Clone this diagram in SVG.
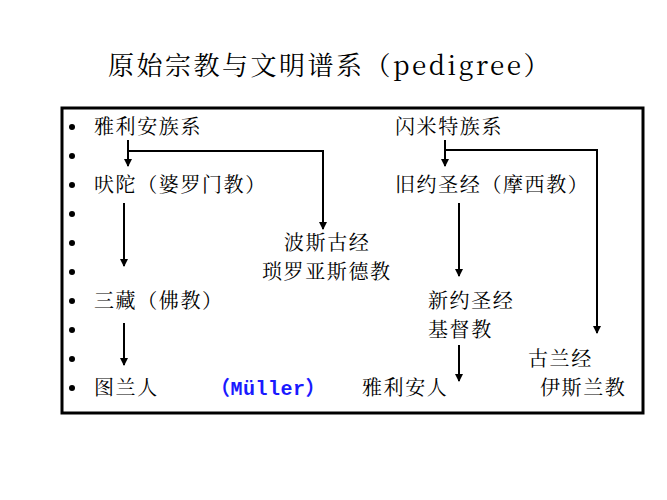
<svg xmlns="http://www.w3.org/2000/svg" width="667" height="500" viewBox="0 0 667 500">
<style>
text{font-family:"Noto Serif CJK SC","Noto Sans CJK SC","Liberation Serif",serif;font-size:20px;letter-spacing:1.6px;fill:#000}
.t{font-size:26px;letter-spacing:2.5px}
.b{font-family:"Liberation Mono","Noto Sans CJK SC",monospace;fill:#1a1aff;font-weight:bold;letter-spacing:0.5px}
.c line,.c path{stroke:#000;stroke-width:2;fill:none}
</style>
<defs><marker id="a" markerWidth="8" markerHeight="8" refX="7" refY="4" orient="auto" markerUnits="userSpaceOnUse"><path d="M0,0L8,4L0,8z" fill="#000"/></marker></defs>
<rect width="667" height="500" fill="#fff"/>
<text class="t" x="330" y="75" text-anchor="middle">原始宗教与文明谱系（pedigree）</text>
<rect x="62" y="108" width="581" height="305" fill="none" stroke="#000" stroke-width="3"/>
<g id="bullets" fill="#000">
<circle cx="72" cy="127" r="3"/><circle cx="72" cy="156" r="3"/><circle cx="72" cy="185" r="3"/><circle cx="72" cy="214" r="3"/><circle cx="72" cy="243" r="3"/><circle cx="72" cy="272" r="3"/><circle cx="72" cy="301" r="3"/><circle cx="72" cy="330" r="3"/><circle cx="72" cy="359" r="3"/><circle cx="72" cy="388" r="3"/>
</g>
<g class="c" id="connectors">
<line x1="128" y1="140" x2="128" y2="166" marker-end="url(#a)"/>
<path d="M128,151H323V229" marker-end="url(#a)"/>
<line x1="124" y1="203" x2="124" y2="266" marker-end="url(#a)"/>
<line x1="124" y1="323" x2="124" y2="365" marker-end="url(#a)"/>
<line x1="445" y1="140" x2="445" y2="166" marker-end="url(#a)"/>
<path d="M445,150H597V333" marker-end="url(#a)"/>
<line x1="459" y1="203" x2="459" y2="276" marker-end="url(#a)"/>
<line x1="459" y1="345" x2="459" y2="381" marker-end="url(#a)"/>
</g>
<g id="n1"><text x="94" y="134">雅利安族系</text></g>
<g id="n2"><text x="395" y="134">闪米特族系</text></g>
<g id="n3"><text x="94" y="192">吠陀（婆罗门教）</text></g>
<g id="n4"><text x="395" y="192">旧约圣经（摩西教）</text></g>
<g id="n5"><text x="284" y="250">波斯古经</text><text x="262" y="279">琐罗亚斯德教</text></g>
<g id="n6"><text x="94" y="308">三藏（佛教）</text></g>
<g id="n7"><text x="428" y="308">新约圣经</text><text x="428" y="337">基督教</text></g>
<g id="n8"><text x="528" y="366">古兰经</text><text x="540" y="395">伊斯兰教</text></g>
<g id="n9"><text x="94" y="395">图兰人</text><text class="b" x="210" y="395">（Müller）</text></g>
<g id="n10"><text x="362" y="395">雅利安人</text></g>
</svg>
